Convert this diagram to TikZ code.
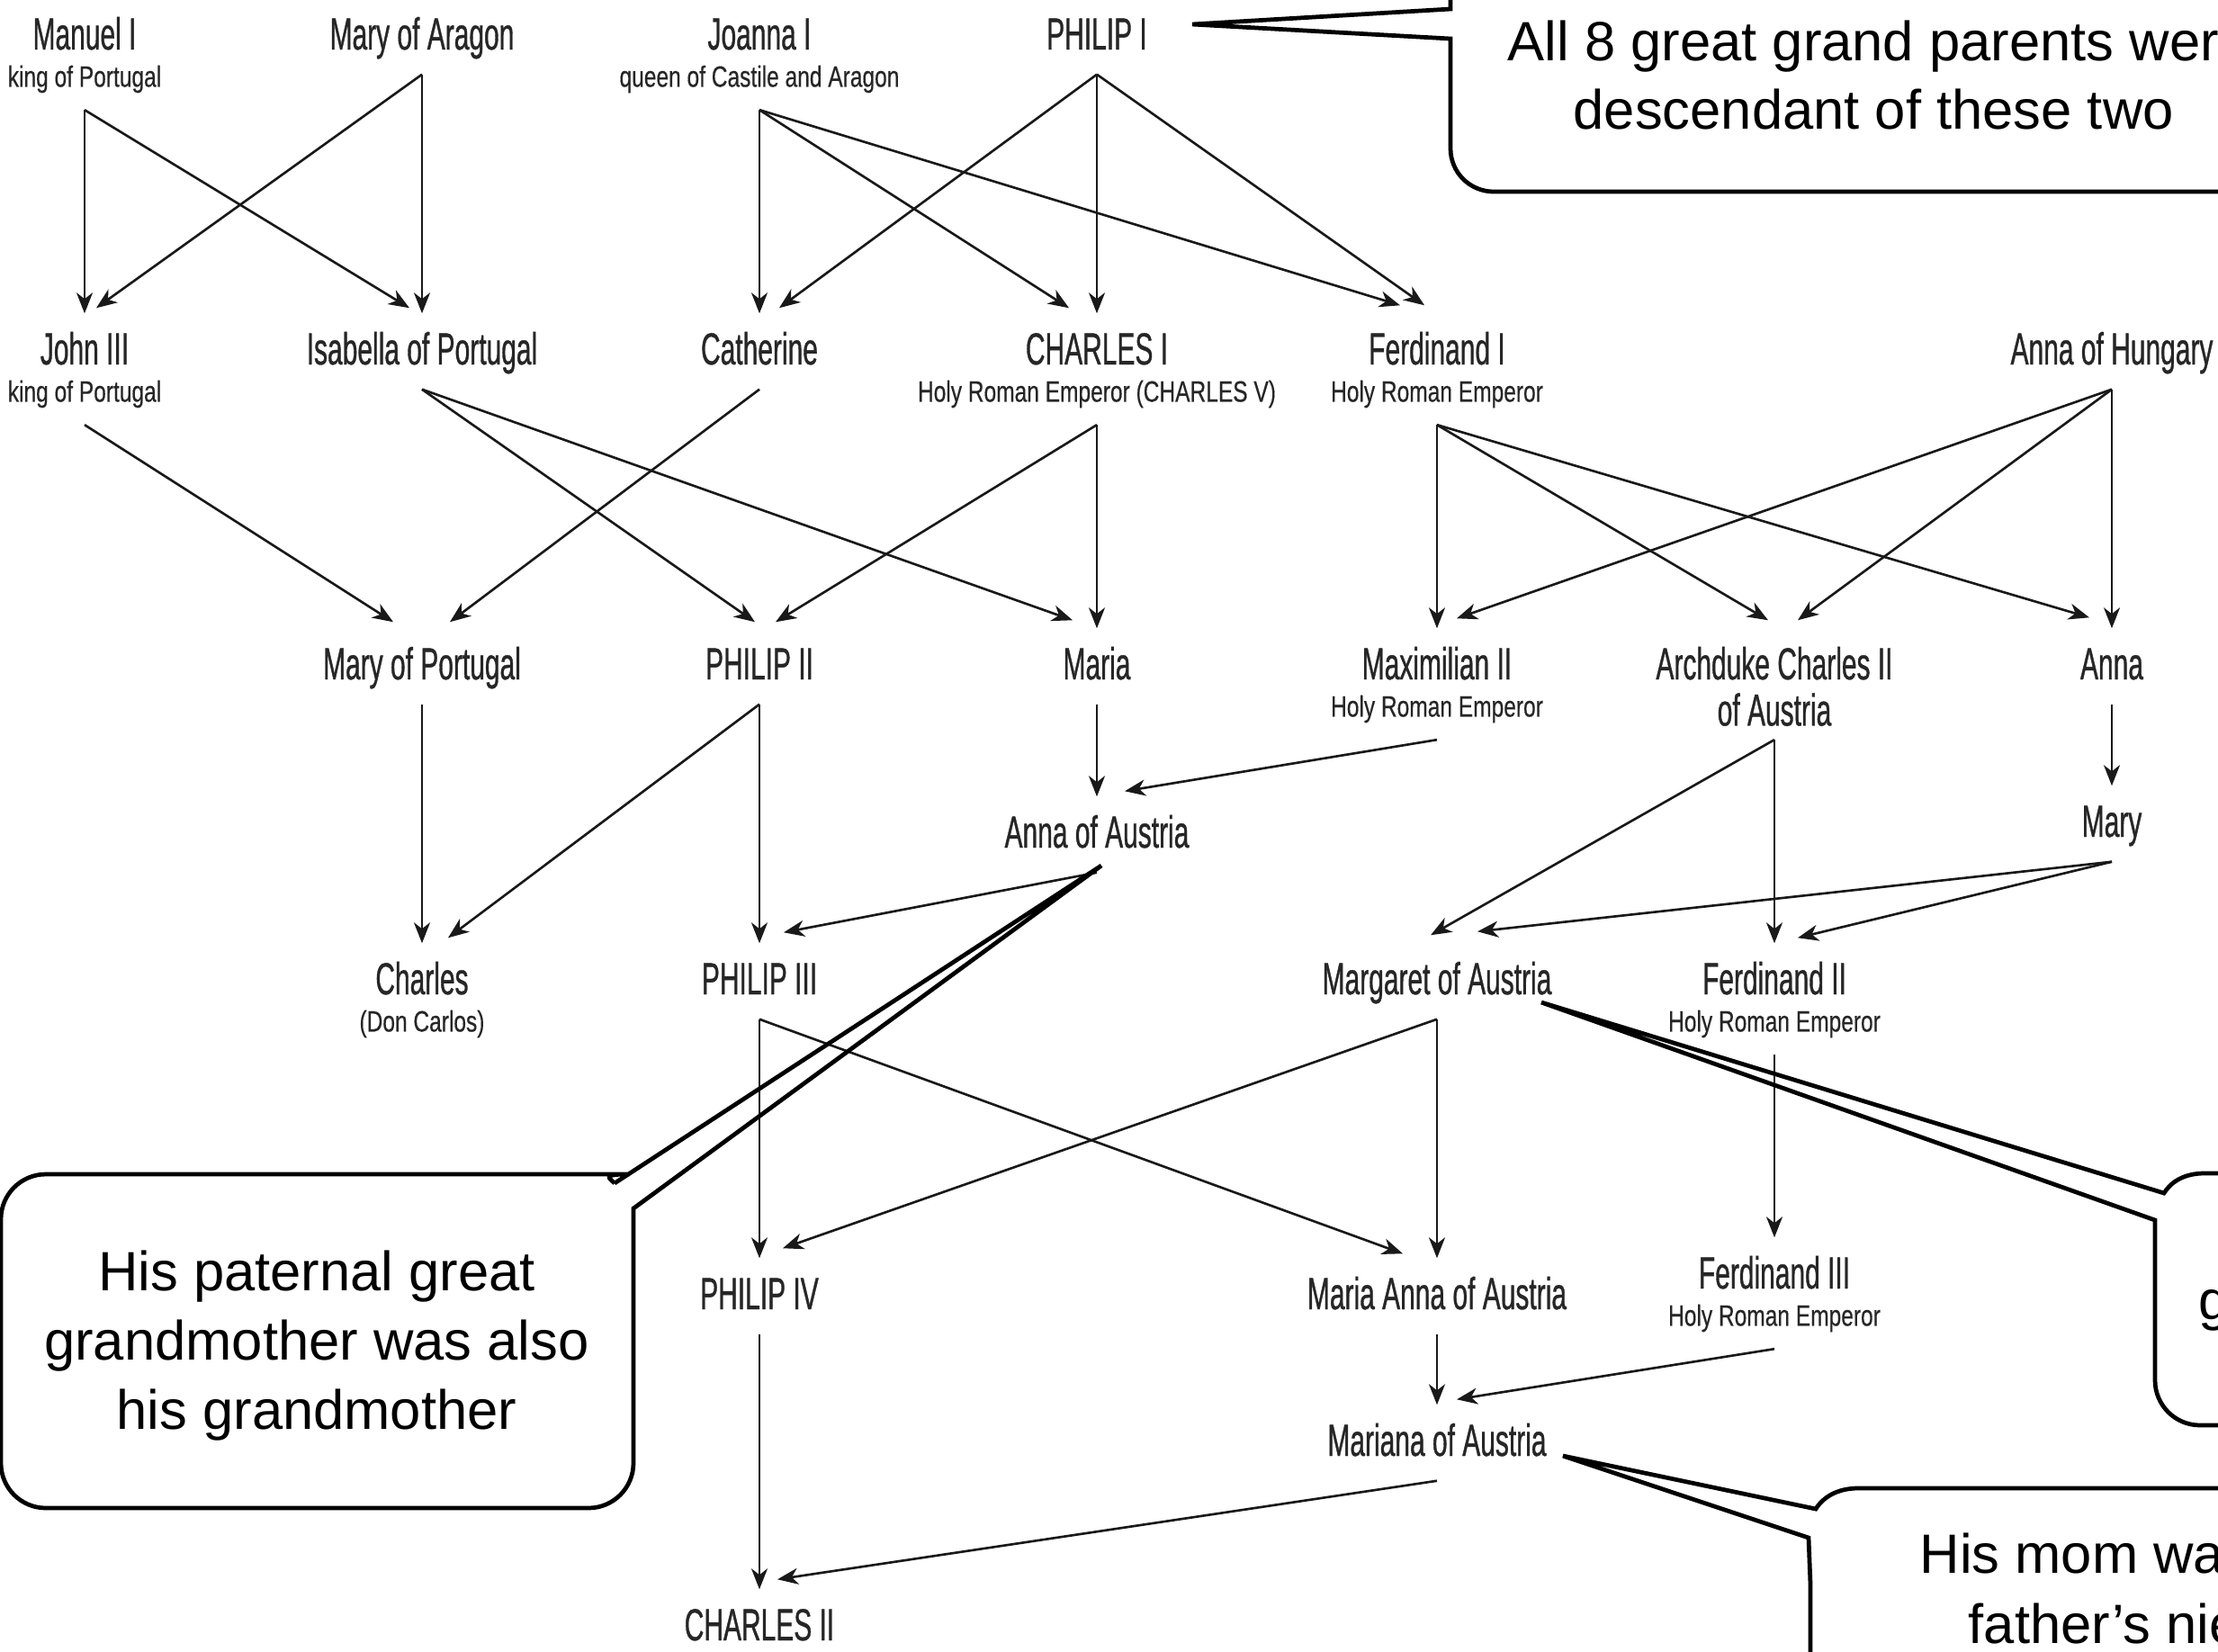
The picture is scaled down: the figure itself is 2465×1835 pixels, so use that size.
\documentclass[tikz,border=0pt]{standalone}
\usepackage{fontspec}
\setmainfont{Liberation Sans}
\newfontfamily\kinfam[FakeStretch=0.6, FakeBold=0.7]{Liberation Sans}
\newfontfamily\titlefam[FakeStretch=0.75, FakeBold=0.4]{Liberation Sans}
\newcommand\kinfont{\kinfam\fontsize{14.2pt}{14.2pt}\selectfont}
\newcommand\titlefont{\titlefam\fontsize{9.3pt}{11pt}\selectfont}
\newcommand\calloutfont{\fontsize{17.5pt}{22pt}\selectfont}
\usetikzlibrary{arrows.meta, positioning}

\tikzset{
  who/.style={font=\kinfont, text=black!85, inner xsep=0pt, inner ysep=2mm,
    text height=3.6mm, text depth=0.7mm, anchor=base},
  whotitle/.style={font=\titlefont, text=black!85, inner xsep=0pt, inner ysep=0.5mm,
    text height=2.4mm, text depth=2mm},
  kin/.style={draw=black!90, line width=0.75pt,
    -{Stealth[length=2.3mm, width=1.8mm, inset=0.7mm]}},
  note/.style={draw=black, line width=1.35pt},
  notetext/.style={font=\calloutfont, anchor=base west, inner sep=0pt}
}

\begin{document}
\begin{tikzpicture}[x=0.01cm, y=-0.01cm]
  \useasboundingbox (0,0) rectangle (2465,1835);
  \fill[white] (0,0) rectangle (2465,1835);
  \clip (0,0) rectangle (2465,1835);

  % generation I
  \node[who] (manuel) at (94,55) {Manuel I};
  \node[whotitle, below=-1.6mm of manuel] (manuel-t) {king of Portugal};
  \node[who] (maryar) at (469,55) {Mary of Aragon};
  \node[who] (joanna) at (844,55) {Joanna I};
  \node[whotitle, below=-1.6mm of joanna] (joanna-t) {queen of Castile and Aragon};
  \node[who] (philip1) at (1219,55) {PHILIP I};
  %--
  % generation II
  \node[who] (john) at (94,405) {John III};
  \node[whotitle, below=-1.6mm of john] (john-t) {king of Portugal};
  \node[who] (isabella) at (469,405) {Isabella of Portugal};
  \node[who] (catherine) at (844,405) {Catherine};
  \node[who] (charles1) at (1219,405) {CHARLES I};
  \node[whotitle, below=-1.6mm of charles1] (charles1-t) {Holy Roman Emperor (CHARLES V)};
  \node[who] (ferd1) at (1597,405) {Ferdinand I};
  \node[whotitle, below=-1.6mm of ferd1] (ferd1-t) {Holy Roman Emperor};
  \node[who] (annahun) at (2347,405) {Anna of Hungary};
  %--
  % generation III
  \node[who] (maryport) at (469,755) {Mary of Portugal};
  \node[who] (philip2) at (844,755) {PHILIP II};
  \node[who] (maria) at (1219,755) {Maria};
  \node[who] (max2) at (1597,755) {Maximilian II};
  \node[whotitle, below=-1.6mm of max2] (max2-t) {Holy Roman Emperor};
  \node[who] (archduke) at (1972,755) {Archduke Charles II};
  \node[who, inner ysep=0.8mm, below=-2.1mm of archduke] (archduke-l) {of Austria};
  \node[who] (anna) at (2347,755) {Anna};
  \node[who] (annaaus) at (1219,942) {Anna of Austria};
  \node[who] (mary) at (2347,930) {Mary};
  %--
  % generation IV
  \node[who] (carlos) at (469,1105) {Charles};
  \node[whotitle, below=-1.6mm of carlos] (carlos-t) {(Don Carlos)};
  \node[who] (philip3) at (844,1105) {PHILIP III};
  \node[who] (margaret) at (1597,1105) {Margaret of Austria};
  \node[who] (ferd2) at (1972,1105) {Ferdinand II};
  \node[whotitle, below=-1.6mm of ferd2] (ferd2-t) {Holy Roman Emperor};
  %--
  % generation V
  \node[who] (philip4) at (844,1455) {PHILIP IV};
  \node[who] (mariaanna) at (1597,1455) {Maria Anna of Austria};
  \node[who] (ferd3) at (1972,1432) {Ferdinand III};
  \node[whotitle, below=-1.6mm of ferd3] (ferd3-t) {Holy Roman Emperor};
  \node[who] (mariana) at (1597,1618) {Mariana of Austria};
  \node[who] (charles2) at (844,1823) {CHARLES II};

  % straight descents
  \draw[kin] (manuel-t.south) -- (john.north);
  \draw[kin] (maryar.south) -- (isabella.north);
  \draw[kin] (joanna-t.south) -- (catherine.north);
  \draw[kin] (philip1.south) -- (charles1.north);
  \draw[kin] (charles1-t.south) -- (maria.north);
  \draw[kin] (ferd1-t.south) -- (max2.north);
  \draw[kin] (annahun.south) -- (anna.north);
  \draw[kin] (maria.south) -- (annaaus.north);
  \draw[kin] (anna.south) -- (mary.north);
  \draw[kin] (maryport.south) -- (carlos.north);
  \draw[kin] (philip2.south) -- (philip3.north);
  \draw[kin] (archduke-l.south) -- (ferd2.north);
  \draw[kin] (philip3.south) -- (philip4.north);
  \draw[kin] (margaret.south) -- (mariaanna.north);
  \draw[kin] (ferd2-t.south) -- (ferd3.north);
  \draw[kin] (mariaanna.south) -- (mariana.north);
  \draw[kin] (philip4.south) -- (charles2.north);

  % crossing descents
  \draw[kin] (manuel-t.south) -- ([shift={(-14,-6)}]isabella.north);
  \draw[kin] (maryar.south) -- ([shift={(13,-6)}]john.north);
  \draw[kin] (joanna-t.south) -- ([shift={(-31,-6)}]charles1.north);
  \draw[kin] (joanna-t.south) -- ([shift={(-41,-9)}]ferd1.north);
  \draw[kin] (philip1.south) -- ([shift={(22,-6)}]catherine.north);
  \draw[kin] (philip1.south) -- ([shift={(-14,-9)}]ferd1.north);
  \draw[kin] (john-t.south) -- ([shift={(-32,-7)}]maryport.north);
  \draw[kin] (catherine.south) -- ([shift={(31,-7)}]maryport.north);
  \draw[kin] (isabella.south) -- ([shift={(-5,-7)}]philip2.north);
  \draw[kin] (charles1-t.south) -- ([shift={(18,-7)}]philip2.north);
  \draw[kin] (isabella.south) -- ([shift={(-27,-9)}]maria.north);
  \draw[kin] (ferd1-t.south) -- ([shift={(-7,-9)}]archduke.north);
  \draw[kin] (ferd1-t.south) -- ([shift={(-25,-12)}]anna.north);
  \draw[kin] (annahun.south) -- ([shift={(22,-11)}]max2.north);
  \draw[kin] (annahun.south) -- ([shift={(26,-9)}]archduke.north);
  \draw[kin] (max2-t.south) -- ([shift={(31,-6)}]annaaus.north);
  \draw[kin] (philip2.south) -- ([shift={(29,-6)}]carlos.north);
  \draw[kin] (annaaus.south) -- ([shift={(27,-12)}]philip3.north);
  \draw[kin] (archduke-l.south) -- ([shift={(-7,-9)}]margaret.north);
  \draw[kin] (mary.south) -- ([shift={(45,-13)}]margaret.north);
  \draw[kin] (mary.south) -- ([shift={(26,-6)}]ferd2.north);
  \draw[kin] (philip3.south) -- ([shift={(-38,-5)}]mariaanna.north);
  \draw[kin] (margaret.south) -- ([shift={(26,-11)}]philip4.north);
  \draw[kin] (ferd3-t.south) -- ([shift={(22,-6)}]mariana.north);
  \draw[kin] (mariana.south) -- ([shift={(20,-11)}]charles2.north);

  % callouts
  \coordinate (tipA) at (1325,27);
  \coordinate (tipB) at (1224,962);
  \coordinate (tipC) at (1713,1114);
  \coordinate (tipD) at (1737,1618);

  \draw[note] (1612,-80) -- (1612,10) -- (tipA) -- (1612,43) -- (1612,100)
    [rounded corners=0.48cm] -- (1612,213) -- (2570,213) -- (2570,-80);
  \node[notetext] (noteA1) at (1675,67) {All 8 great grand parents wer};
  \node[notetext] (noteA2) at (1748,143) {descendant of these two};

  \draw[note] (683,1315) -- (tipB) -- (704,1343) -- (704,1400)
    [rounded corners=0.5cm] -- (704,1676) -- (1,1676) -- (1,1305) -- (650,1305)
    [sharp corners] .. controls (668,1305) and (677,1309) .. (683,1315);
  \node[notetext, anchor=base] (noteB1) at (352,1434) {His paternal great};
  \node[notetext, anchor=base] (noteB2) at (352,1511) {grandmother was also};
  \node[notetext, anchor=base] (noteB3) at (352,1588) {his grandmother};

  \draw[note] (2570,1304) -- (2450,1304)
    .. controls (2428,1304) and (2413,1313) .. (2405,1326) -- (tipC) -- (2395,1356)
    -- (2395,1420) [rounded corners=0.5cm] -- (2395,1584) -- (2570,1584);
  \node[notetext] (noteC) at (2443,1466) {g};

  \draw[note] (2570,1654) -- (2065,1654)
    .. controls (2042,1654) and (2026,1664) .. (2018,1677) -- (tipD) -- (2010,1709)
    -- (2012,1760) -- (2012,1900);
  \node[notetext] (noteD1) at (2133,1748) {His mom wa};
  \node[notetext] (noteD2) at (2187,1826) {father’s nie};
\end{tikzpicture}
\end{document}
